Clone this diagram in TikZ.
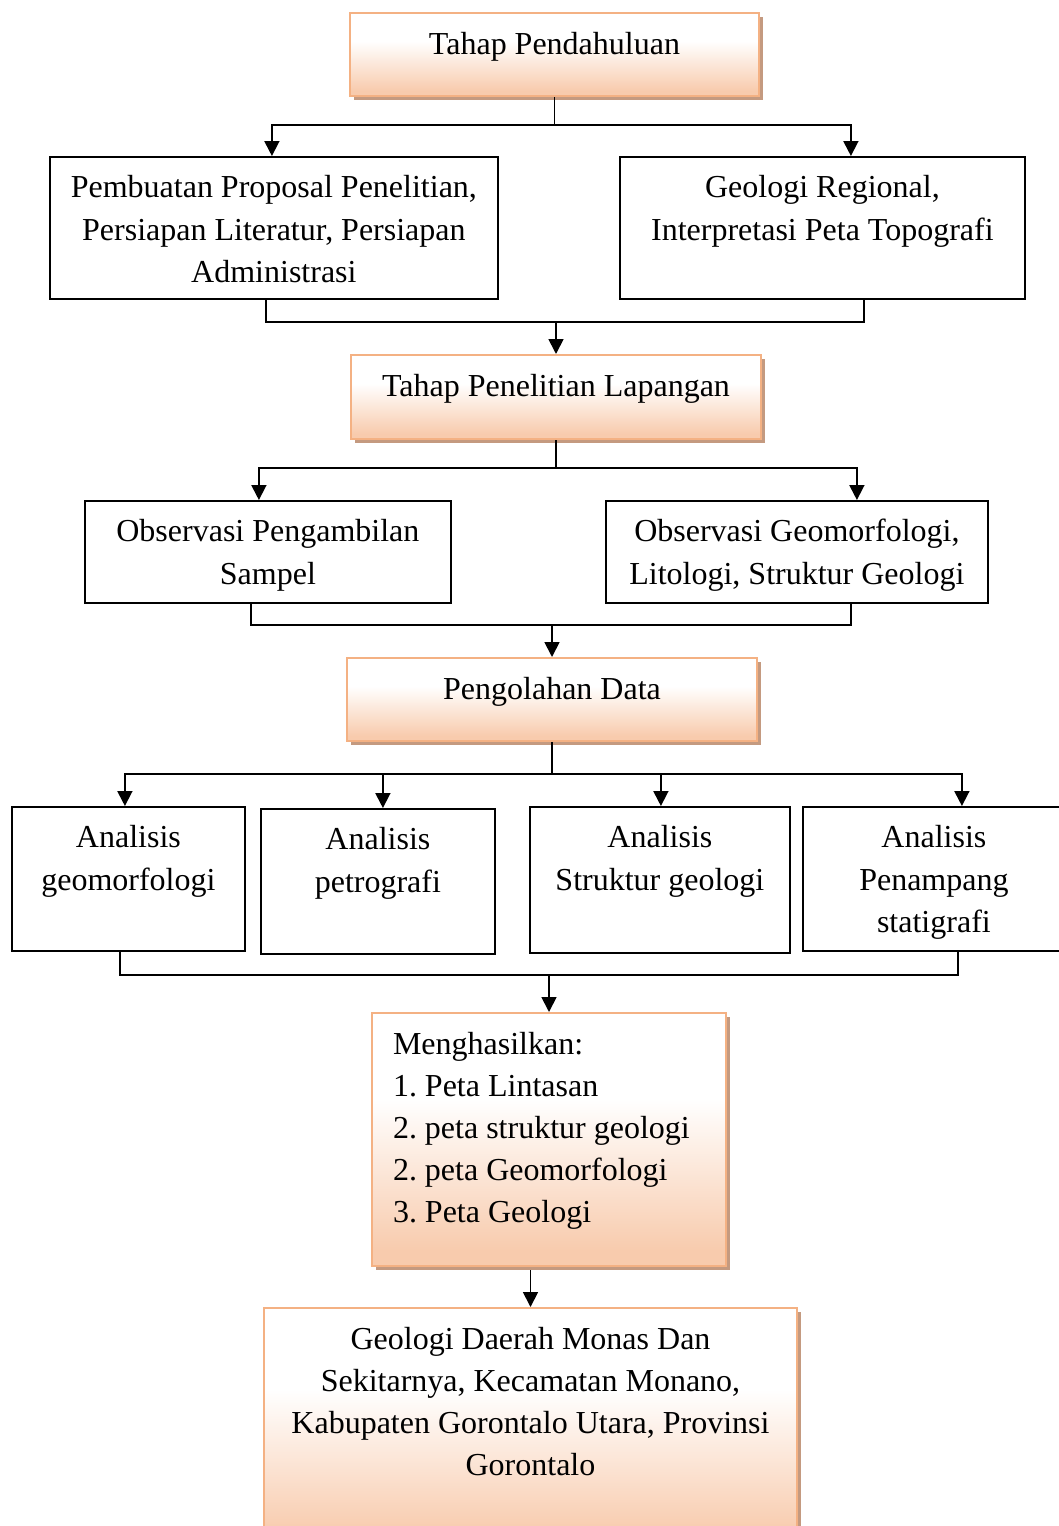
\documentclass[tikz,border=0pt]{standalone}
\usepackage{fontspec}
\setmainfont{Liberation Serif}
\usetikzlibrary{arrows.meta,shadows}
\definecolor{obord}{RGB}{244,177,131}
\definecolor{opeach}{RGB}{248,203,173}
\definecolor{oshadow}{RGB}{196,154,128}
\pgfdeclareverticalshading{pshade}{100bp}{color(0bp)=(opeach); color(28bp)=(opeach); color(58bp)=(white); color(74bp)=(white); color(100bp)=(white)}
\newcommand\bxt[4]{\parbox[t][#2][t]{#1}{\frenchspacing#3\rule{0pt}{41pt}#4}}
\begin{document}
\begin{tikzpicture}[x=1pt,y=-1pt,
  font=\fontsize{32}{42.2}\selectfont,
  plain/.style={draw=black,line width=1.8pt,inner sep=0pt,anchor=north west},
  orangebox/.style={draw=obord,line width=2pt,inner sep=0pt,anchor=north west,
    shade,shading=pshade,
    general shadow={fill=oshadow,shadow xshift=3.5pt,shadow yshift=-3.5pt}},
  link/.style={line width=1.8pt,black},
  arr/.style={link,-{Triangle[length=15pt,width=15pt]}}]
\useasboundingbox (0,0) rectangle (1059,1526);
\clip (0,0) rectangle (1059,1526);

\node[orangebox] (b1) at (349,12) {\bxt{409pt}{83pt}{\centering}{Tahap Pendahuluan}};
\node[plain] (b2L) at (49,156) {\bxt{448pt}{142pt}{\centering}{Pembuatan Proposal Penelitian,\\Persiapan Literatur, Persiapan\\Administrasi}};
\node[plain] (b2R) at (619,156) {\bxt{405pt}{142pt}{\centering}{Geologi Regional,\\Interpretasi Peta Topografi}};
\node[orangebox] (b3) at (350,354) {\bxt{410pt}{84pt}{\centering}{Tahap Penelitian Lapangan}};
\node[plain] (b4L) at (84,500) {\bxt{366pt}{102pt}{\centering}{Observasi Pengambilan\\Sampel}};
\node[plain] (b4R) at (605,500) {\bxt{382pt}{102pt}{\centering}{Observasi Geomorfologi,\\Litologi, Struktur Geologi}};
\node[orangebox] (b5) at (346,657) {\bxt{410pt}{83pt}{\centering}{Pengolahan Data}};
\node[plain] (a1) at (11,806) {\bxt{233pt}{144pt}{\centering}{Analisis\\geomorfologi}};
\node[plain] (a2) at (260,808) {\bxt{234pt}{145pt}{\centering}{Analisis\\petrografi}};
\node[plain] (a3) at (529,806) {\bxt{260pt}{146pt}{\centering}{Analisis\\Struktur geologi}};
\node[plain] (a4) at (802,806) {\bxt{262pt}{144pt}{\centering}{Analisis\\Penampang\\statigrafi}};
\node[orangebox] (b6) at (371,1012) {\bxt{354pt}{253pt}{\raggedright\leftskip=21pt}{Menghasilkan:\\1. Peta Lintasan\\2. peta struktur geologi\\2. peta Geomorfologi\\3. Peta Geologi}};
\node[orangebox] (b7) at (263,1307) {\bxt{533pt}{240pt}{\centering}{Geologi Daerah Monas Dan\\Sekitarnya, Kecamatan Monano,\\Kabupaten Gorontalo Utara, Provinsi\\Gorontalo}};

% stage 1 split
\path (b1.south) ++(0,28) coordinate (j1);
\draw[link] (b1.south) -- (j1);
\draw[arr] (j1) -| ([xshift=-2pt]b2L.north);
\draw[arr] (j1) -| ([xshift=28.5pt]b2R.north);
% merge to stage 2
\path ([xshift=-8pt]b2L.south) ++(0,22) coordinate (m2);
\draw[link] ([xshift=-8pt]b2L.south) -- (m2) -| ([xshift=41.5pt]b2R.south);
\draw[arr] (m2 -| b3.north) -- (b3.north);
% stage 2 split
\path (b3.south) ++(0,28) coordinate (j3);
\draw[link] (b3.south) -- (j3);
\draw[arr] (j3) -| ([xshift=-9pt]b4L.north);
\draw[arr] (j3) -| ([xshift=60pt]b4R.north);
% merge to stage 3
\path ([xshift=-17pt]b4L.south) ++(0,21) coordinate (m4);
\draw[link] ([xshift=-17pt]b4L.south) -- (m4) -| ([xshift=54pt]b4R.south);
\draw[arr] (m4 -| b5.north) -- (b5.north);
% stage 3 split
\path (b5.south) ++(0,32) coordinate (j5);
\draw[link] (b5.south) -- (j5);
\draw[arr] (j5) -| ([xshift=-3.5pt]a1.north);
\draw[arr] (j5) -| ([xshift=5pt]a2.north);
\draw[arr] (j5) -| ([xshift=1pt]a3.north);
\draw[arr] (j5) -| ([xshift=28pt]a4.north);
% merge to results
\path ([xshift=-8.5pt]a1.south) ++(0,23) coordinate (m6);
\draw[link] ([xshift=-8.5pt]a1.south) -- (m6) -| ([xshift=24pt]a4.south);
\draw[arr] (m6 -| b6.north) -- (b6.north);
% results to final
\draw[arr] ([yshift=-3pt]b6.south -| b7.north) -- (b7.north);
\end{tikzpicture}
\end{document}
